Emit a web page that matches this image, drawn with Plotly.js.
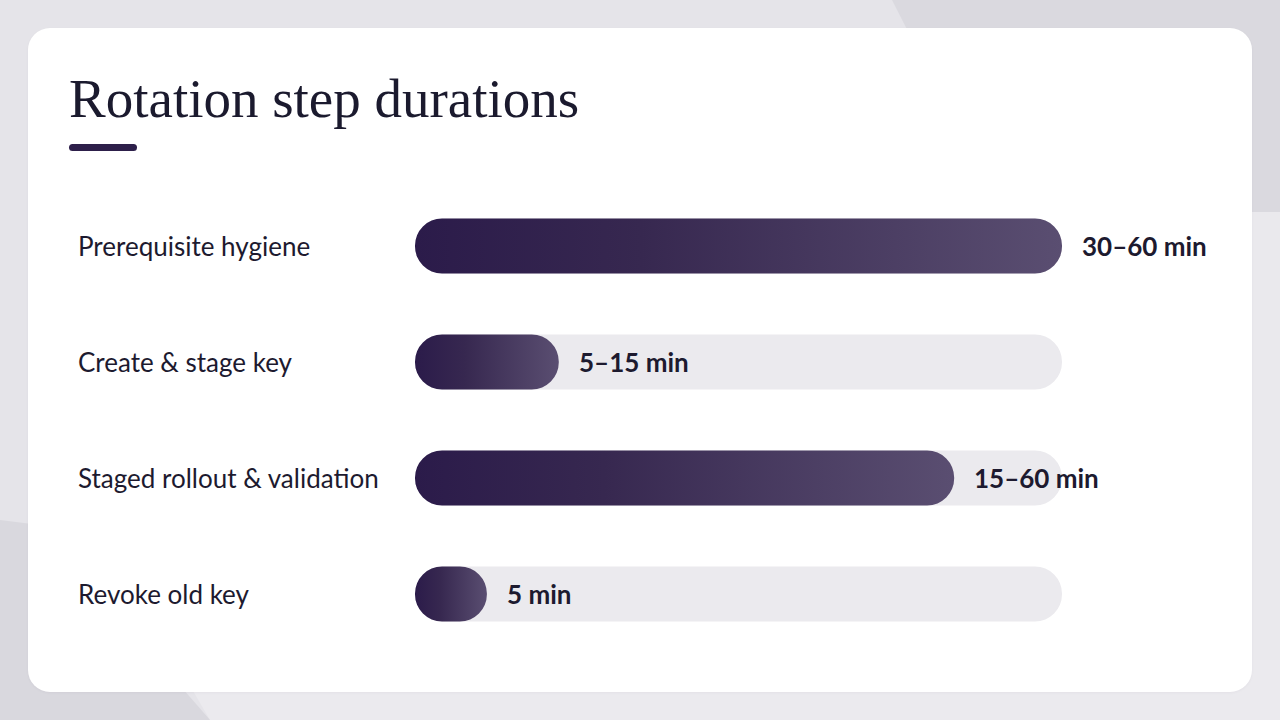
<!DOCTYPE html>
<html>
<head>
<meta charset="utf-8">
<script src="https://cdn.plot.ly/plotly-3.0.1.min.js"></script>
<style>
  html, body { margin: 0; padding: 0; width: 1280px; height: 720px; overflow: hidden; background: #e6e5ea; }
  #bg { position: absolute; left: 0; top: 0; }
  #card { position: absolute; left: 28px; top: 28px; width: 1224px; height: 664px; background: #ffffff; border-radius: 22px; box-shadow: 0 1px 3px rgba(40,30,70,0.04); }
  #accent { position: absolute; left: 69px; top: 144px; width: 68px; height: 7px; background: #2d1f4a; border-radius: 4px; }
  #chart { position: absolute; left: 0; top: 0; width: 1280px; height: 720px; }
</style>
</head>
<body>
<svg id="bg" width="1280" height="720">
  <rect x="0" y="0" width="1280" height="720" fill="#e5e4e9"/>
  <polygon points="892,0 1280,0 1280,212 1000,212" fill="#dad9df"/>
  <polygon points="1240,212 1280,212 1280,720 1240,720" fill="#eae9ed"/>
  <polygon points="210,720 175,660 1280,660 1280,720" fill="#ebeaee"/>
  <polygon points="0,520 40,525 210,720 0,720" fill="#d9d8de"/>
</svg>
<div id="card"></div>
<div id="accent"></div>
<div id="chart"></div>
<script>
// ---- data ----
const steps = ["Prerequisite hygiene", "Create & stage key", "Staged rollout & validation", "Revoke old key"];
const rangeLabels = ["30–60 min", "5–15 min", "15–60 min", "5 min"];
const midMinutes = [45, 10, 37.5, 5];   // midpoint of each range, in minutes
const scaleMax = 45;
const trackValues = steps.map(() => scaleMax);

const textColor = "#1d1a2f";

const traces = [
  {
    type: "bar", orientation: "h", y: steps, x: trackValues,
    width: 0.474, marker: { color: "#ebeaee" },
    hoverinfo: "skip", showlegend: false
  },
  {
    type: "bar", orientation: "h", y: steps, x: midMinutes,
    width: 0.474, marker: { color: "#3f3259" },
    text: rangeLabels, hoverinfo: "none", textposition: "none", showlegend: false
  }
];

const annotations = [];
steps.forEach((s, i) => {
  annotations.push({
    xref: "paper", yref: "y", x: (76 - 415) / 647, y: s,
    xanchor: "left", yanchor: "middle", showarrow: false,
    text: s, font: { family: "Lato, sans-serif", size: 26, color: textColor }
  });
  annotations.push({
    xref: "x", yref: "y", x: midMinutes[i], y: s,
    xanchor: "left", yanchor: "middle", xshift: 18, showarrow: false,
    text: "<b>" + rangeLabels[i] + "</b>",
    font: { family: "Lato, sans-serif", size: 26, color: textColor }
  });
});

const layout = {
  width: 1280, height: 720,
  paper_bgcolor: "rgba(0,0,0,0)", plot_bgcolor: "rgba(0,0,0,0)",
  margin: { l: 415, r: 218, t: 188, b: 68, pad: 0 },
  barmode: "overlay",
  title: {
    text: "Rotation step durations",
    xref: "container", yref: "container", x: 69 / 1280, xanchor: "left",
    y: 1 - 98 / 720, yanchor: "middle",
    font: { family: "Liberation Serif, serif", size: 55, color: "#1b1a2e" }
  },
  xaxis: { range: [0, scaleMax], visible: false, fixedrange: true },
  yaxis: { autorange: "reversed", showticklabels: false, showgrid: false, zeroline: false, showline: false, ticks: "", fixedrange: true },
  annotations: annotations,
  showlegend: false
};

function pill(b) {
  const x = b.x, y = b.y, w = b.width, h = b.height;
  const r = Math.min(27, w / 2, h / 2);
  return `M${x + r},${y}H${x + w - r}A${r},${r} 0 0 1 ${x + w},${y + r}V${y + h - r}` +
         `A${r},${r} 0 0 1 ${x + w - r},${y + h}H${x + r}A${r},${r} 0 0 1 ${x},${y + h - r}` +
         `V${y + r}A${r},${r} 0 0 1 ${x + r},${y}Z`;
}

Plotly.newPlot("chart", traces, layout, { displayModeBar: false, staticPlot: true }).then(gd => {
  const svg = gd.querySelector(".main-svg");
  const ns = "http://www.w3.org/2000/svg";
  let defs = svg.querySelector("defs");
  if (!defs) { defs = document.createElementNS(ns, "defs"); svg.insertBefore(defs, svg.firstChild); }
  const grad = document.createElementNS(ns, "linearGradient");
  grad.setAttribute("id", "barGrad");
  grad.setAttribute("x1", "0"); grad.setAttribute("y1", "0");
  grad.setAttribute("x2", "1"); grad.setAttribute("y2", "0");
  [["0", "#2b1b4a"], ["0.35", "#372850"], ["1", "#5a4e71"]].forEach(([o, c]) => {
    const st = document.createElementNS(ns, "stop");
    st.setAttribute("offset", o); st.setAttribute("stop-color", c);
    grad.appendChild(st);
  });
  defs.appendChild(grad);
  const barTraces = gd.querySelectorAll(".barlayer .trace");
  barTraces.forEach((t, ti) => {
    t.querySelectorAll("path").forEach(p => {
      const b = p.getBBox();
      if (b.width > 0 && b.height > 0) p.setAttribute("d", pill(b));
      if (ti === 1) p.style.fill = "url(#barGrad)";
    });
  });
});
</script>
</body>
</html>
